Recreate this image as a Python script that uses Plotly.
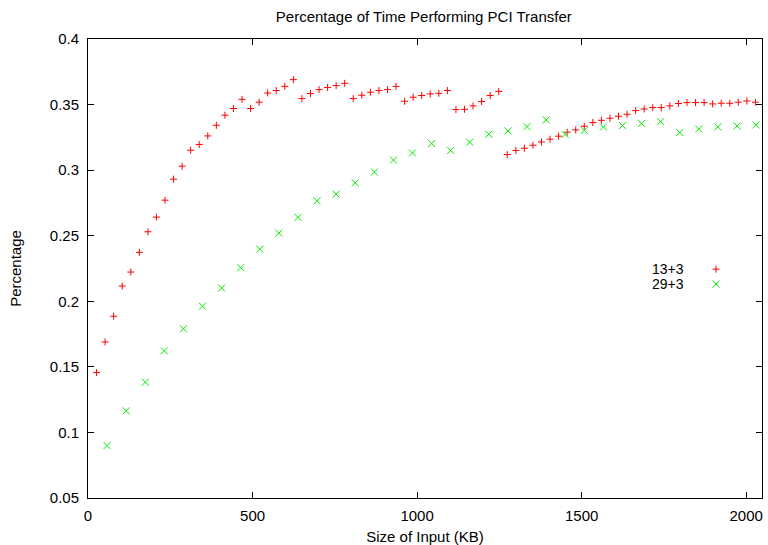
import plotly.graph_objects as go

# ---- data ----
size_13_3 = [26, 52, 78, 104, 130, 156, 182, 208, 234, 260,
             286, 312, 338, 364, 390, 416, 442, 468, 494, 520,
             546, 572, 598, 624, 650, 676, 702, 728, 754, 780,
             806, 832, 858, 884, 910, 936, 962, 988, 1014, 1040,
             1066, 1092, 1118, 1144, 1170, 1196, 1222, 1248, 1274, 1300,
             1326, 1352, 1378, 1404, 1430, 1456, 1482, 1508, 1534, 1560,
             1586, 1612, 1638, 1664, 1690, 1716, 1742, 1768, 1794, 1820,
             1846, 1872, 1898, 1924, 1950, 1976, 2002, 2028]
pct_13_3 = [0.1456, 0.169, 0.1886, 0.2116, 0.2223, 0.2373, 0.253, 0.2642, 0.2771, 0.2931,
            0.303, 0.3152, 0.3195, 0.3261, 0.3342, 0.3419, 0.347, 0.354, 0.347, 0.3518,
            0.3588, 0.3607, 0.3639, 0.369, 0.3546, 0.3584, 0.3614, 0.363, 0.3645, 0.3662,
            0.3546, 0.3571, 0.3594, 0.3607, 0.3614, 0.3639, 0.3525, 0.3556, 0.3569, 0.3581,
            0.3586, 0.3607, 0.3462, 0.3464, 0.349, 0.3523, 0.3569, 0.3601, 0.3119, 0.315,
            0.3167, 0.319, 0.3215, 0.3236, 0.3259, 0.3289, 0.3307, 0.3335, 0.3363, 0.338,
            0.3396, 0.3411, 0.3426, 0.3454, 0.3466, 0.3477, 0.3477, 0.349, 0.3508, 0.3515,
            0.3515, 0.3515, 0.3505, 0.351, 0.351, 0.3518, 0.3527, 0.3518]

size_29_3 = [58, 116, 174, 232, 290, 348, 406, 464, 522, 580,
             638, 696, 754, 812, 870, 928, 986, 1044, 1102, 1160,
             1218, 1276, 1334, 1392, 1450, 1508, 1566, 1624, 1682, 1740,
             1798, 1856, 1914, 1972, 2030]
pct_29_3 = [0.09, 0.1165, 0.1383, 0.1622, 0.1791, 0.1962, 0.2101, 0.2256, 0.2398, 0.252,
            0.264, 0.2766, 0.2817, 0.2903, 0.2985, 0.3076, 0.3131, 0.3203, 0.315, 0.3213,
            0.3274, 0.3299, 0.3332, 0.3383, 0.3272, 0.3302, 0.3329, 0.334, 0.3355, 0.337,
            0.3287, 0.3314, 0.3329, 0.3337, 0.3345]

series_names = ["13+3", "29+3"]
x_ticks = [0, 500, 1000, 1500, 2000]
y_ticks = [0.05, 0.1, 0.15, 0.2, 0.25, 0.3, 0.35, 0.4]
y_tick_text = ["0.05", "0.1", "0.15", "0.2", "0.25", "0.3", "0.35", "0.4"]

RED = "#ff0000"
GREEN = "#00ee00"
FONT = "Liberation Sans, Arial, sans-serif"
FS = 15

fig = go.Figure()
fig.add_trace(go.Scatter(
    x=size_13_3, y=pct_13_3, mode="markers", name=series_names[0],
    marker=dict(symbol="cross-thin", size=5, color=RED, line=dict(color=RED, width=1)),
    showlegend=False))
fig.add_trace(go.Scatter(
    x=size_29_3, y=pct_29_3, mode="markers", name=series_names[1],
    marker=dict(symbol="x-thin", size=7, color=GREEN, line=dict(color=GREEN, width=1)),
    showlegend=False))

# legend keys (gnuplot style: text then sample) on a pixel-based overlay axis
key_x = 628
key_y = [230.5, 245.5]
fig.add_trace(go.Scatter(
    x=[key_x], y=[key_y[0]], mode="markers", xaxis="x2", yaxis="y2", showlegend=False,
    hoverinfo="skip",
    marker=dict(symbol="cross-thin", size=5, color=RED, line=dict(color=RED, width=1))))
fig.add_trace(go.Scatter(
    x=[key_x], y=[key_y[1]], mode="markers", xaxis="x2", yaxis="y2", showlegend=False,
    hoverinfo="skip",
    marker=dict(symbol="x-thin", size=7, color=GREEN, line=dict(color=GREEN, width=1))))
for name, ky in zip(series_names, key_y):
    fig.add_annotation(x=597, y=ky, xref="x2", yref="y2", text=name, showarrow=False,
                       xanchor="right", yanchor="middle", borderpad=0,
                       font=dict(family=FONT, size=14, color="black"))

axis_common = dict(showline=True, linecolor="black", linewidth=1, mirror="ticks",
                   ticks="inside", ticklen=6, tickcolor="black", tickwidth=1,
                   showgrid=False, zeroline=False,
                   tickfont=dict(family=FONT, size=FS, color="black"))

fig.update_layout(
    width=768, height=545,
    margin=dict(l=88, r=6, t=39, b=47),
    paper_bgcolor="white", plot_bgcolor="white",
    font=dict(family=FONT, size=FS, color="black"),
    title=dict(text="Percentage of Time Performing PCI Transfer", x=0.5518, xanchor="center",
               y=0.9697, yanchor="middle", font=dict(family=FONT, size=FS, color="black")),
    xaxis=dict(range=[0, 2048], tickvals=x_ticks, ticktext=[str(v) for v in x_ticks],
               title=dict(text="Size of Input (KB)", standoff=8,
                          font=dict(family=FONT, size=FS, color="black")),
               ticklabelstandoff=4, automargin=False, **axis_common),
    yaxis=dict(range=[0.05, 0.4], tickvals=y_ticks, ticktext=y_tick_text,
               title=dict(text="Percentage", standoff=24,
                          font=dict(family=FONT, size=FS, color="black")),
               ticklabelstandoff=5, automargin=False, **axis_common),
    xaxis2=dict(range=[0, 674], overlaying="x", anchor="y2", visible=False, fixedrange=True),
    yaxis2=dict(range=[459.7, 0], overlaying="y", anchor="x2", visible=False, fixedrange=True),
    showlegend=False,
)

fig.write_html("out.html", config={"displayModeBar": False},
               post_script="document.body.style.margin='0px';")
